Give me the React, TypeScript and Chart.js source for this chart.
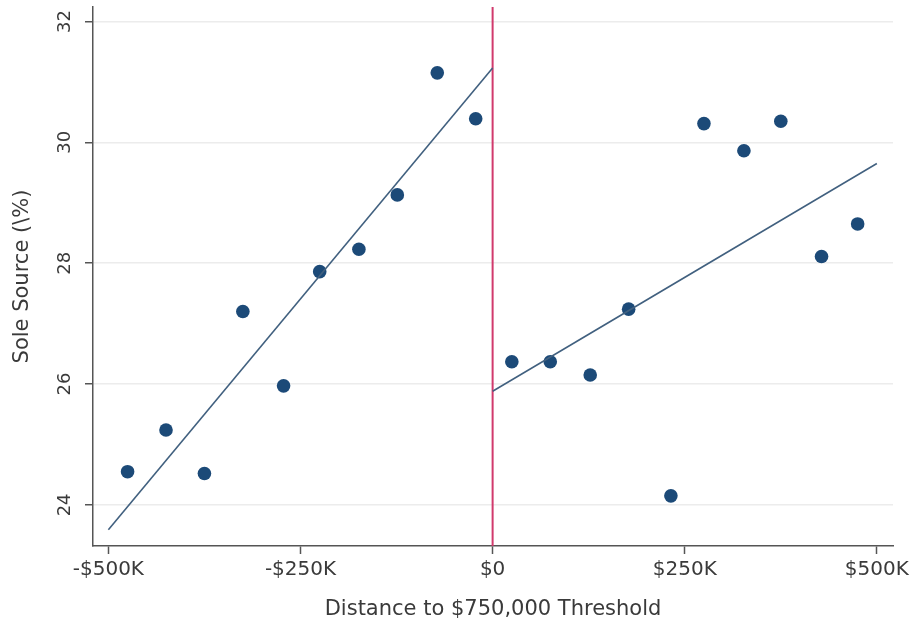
import React, { useEffect, useRef } from 'react';
import { Chart, registerables } from 'chart.js';

Chart.register(...registerables);

// Binned distance to the threshold ($K) and share of sole-source awards (%)
const belowDistance = [-475, -425, -375, -325, -272, -225, -174, -124, -72, -22];
const belowShare = [24.55, 25.24, 24.52, 27.2, 25.97, 27.86, 28.23, 29.13, 31.15, 30.39];
const aboveDistance = [25, 75, 127, 177, 232, 275, 327, 375, 428, 475];
const aboveShare = [26.37, 26.37, 26.15, 27.24, 24.15, 30.31, 29.86, 30.35, 28.11, 28.65];

// Linear fits on each side of the threshold (endpoints)
const belowFitX = [-500, 0];
const belowFitY = [23.59, 31.23];
const aboveFitX = [0, 500];
const aboveFitY = [25.88, 29.65];

const thresholdX = 0;
const xTicks = [-500, -250, 0, 250, 500];
const yTicks = [24, 26, 28, 30, 32];
const xRange = [-520, 521];
const yRange = [23.32, 32.24];

const FONT = 'DejaVu Sans';
const TEXT = '#3a3a3a';
const AXIS = '#555555';
const DOT = '#1c4a78';
const FIT = '#41607f';
const THRESHOLD = '#d13a6c';

const pairs = (xs: number[], ys: number[]) => xs.map((x, i) => ({ x, y: ys[i] }));

const fmtMoney = (v: number) => (v === 0 ? '$0' : `${v < 0 ? '-' : ''}$${Math.abs(v)}K`);

const thresholdLine = {
  id: 'thresholdLine',
  beforeDatasetsDraw(chart: any) {
    const { ctx, chartArea, scales } = chart;
    const px = scales.x.getPixelForValue(thresholdX);
    ctx.save();
    ctx.strokeStyle = THRESHOLD;
    ctx.lineWidth = 2;
    ctx.beginPath();
    ctx.moveTo(px, chartArea.top);
    ctx.lineTo(px, chartArea.bottom);
    ctx.stroke();
    ctx.restore();
  },
};

export default function App() {
  const canvasRef = useRef<HTMLCanvasElement | null>(null);

  useEffect(() => {
    document.body.style.margin = '0';
    const canvas = canvasRef.current;
    if (!canvas) return;

    const chart = new Chart(canvas, {
      type: 'scatter',
      data: {
        datasets: [
          {
            type: 'line',
            data: pairs(belowFitX, belowFitY),
            borderColor: FIT,
            borderWidth: 1.6,
            pointRadius: 0,
            fill: false,
          },
          {
            type: 'line',
            data: pairs(aboveFitX, aboveFitY),
            borderColor: FIT,
            borderWidth: 1.6,
            pointRadius: 0,
            fill: false,
          },
          {
            type: 'scatter',
            data: pairs(belowDistance, belowShare),
            backgroundColor: DOT,
            borderColor: DOT,
            borderWidth: 0,
            pointRadius: 6.8,
          },
          {
            type: 'scatter',
            data: pairs(aboveDistance, aboveShare),
            backgroundColor: DOT,
            borderColor: DOT,
            borderWidth: 0,
            pointRadius: 6.8,
          },
        ],
      },
      options: {
        animation: false,
        responsive: true,
        maintainAspectRatio: false,
        layout: { padding: { top: 7, right: 22, bottom: 0, left: 0 } },
        plugins: {
          legend: { display: false },
          tooltip: { enabled: false },
        },
        scales: {
          x: {
            type: 'linear',
            position: 'bottom',
            min: xRange[0],
            max: xRange[1],
            afterBuildTicks: (scale: any) => {
              scale.ticks = xTicks.map((value) => ({ value }));
            },
            afterFit: (scale: any) => {
              scale.height = 78;
            },
            grid: {
              drawOnChartArea: false,
              drawTicks: true,
              tickLength: 8,
              tickColor: AXIS,
              tickWidth: 1.5,
            },
            border: { display: true, color: AXIS, width: 1.5 },
            ticks: {
              color: TEXT,
              font: { family: FONT, size: 20 },
              padding: 4,
              maxRotation: 0,
              minRotation: 0,
              callback: (v: any) => fmtMoney(Number(v)),
            },
            title: {
              display: true,
              text: 'Distance to $750,000 Threshold',
              color: TEXT,
              font: { family: FONT, size: 21 },
              padding: { top: 0, bottom: 2 },
            },
          },
          y: {
            type: 'linear',
            position: 'left',
            min: yRange[0],
            max: yRange[1],
            afterBuildTicks: (scale: any) => {
              scale.ticks = yTicks.map((value) => ({ value }));
            },
            afterFit: (scale: any) => {
              scale.width = 93;
              scale.paddingTop = 0;
              scale.paddingBottom = 0;
            },
            grid: {
              drawOnChartArea: true,
              color: '#ececec',
              lineWidth: 1.5,
              drawTicks: true,
              tickLength: 8,
              tickColor: AXIS,
              tickWidth: 1.5,
            },
            border: { display: true, color: AXIS, width: 1.5 },
            ticks: {
              color: TEXT,
              font: { family: FONT, size: 18 },
              minRotation: 90,
              maxRotation: 90,
              crossAlign: 'center',
              padding: 8,
            },
            title: {
              display: true,
              text: 'Sole Source (\\%)',
              color: TEXT,
              font: { family: FONT, size: 21 },
              padding: { top: 10, bottom: 0 },
            },
          },
        },
      },
      plugins: [thresholdLine],
    } as any);

    return () => chart.destroy();
  }, []);

  return (
    <div style={{ position: 'relative', width: 915, height: 624, background: '#ffffff' }}>
      <canvas ref={canvasRef} />
    </div>
  );
}
